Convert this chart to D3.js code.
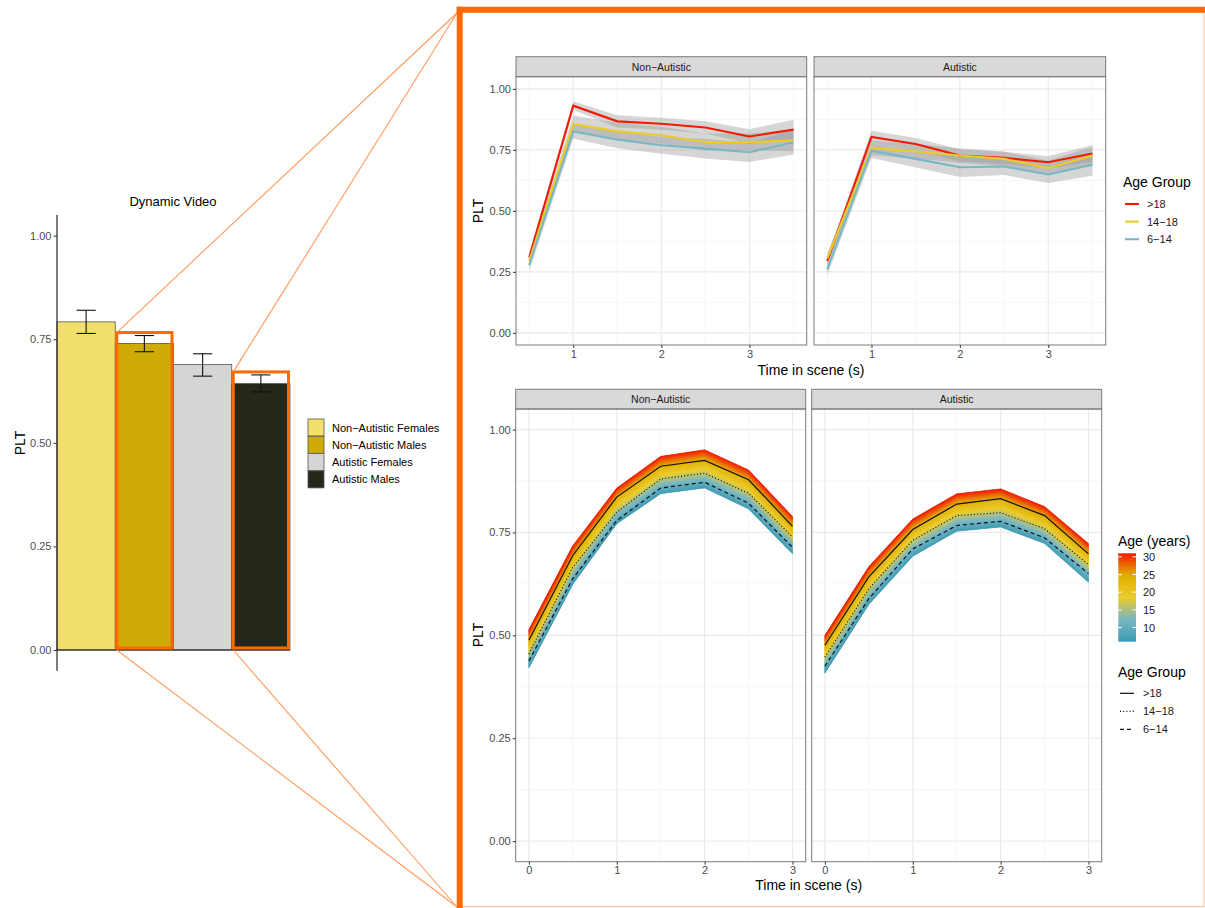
<!DOCTYPE html>
<head>
  <meta charset="utf-8">
  <script src="https://d3js.org/d3.v7.min.js"></script>
  <style>
    body { margin:0; background:#fff; }
    text { font-family: "Liberation Sans", Arial, sans-serif; }
  </style>
</head>
<body>
<script>
  // ---- left bar chart data
  const barGroups = ["Non\u2212Autistic Females", "Non\u2212Autistic Males", "Autistic Females", "Autistic Males"];
  const barMeans  = [0.792, 0.740, 0.689, 0.643];
  const barLower  = [0.764, 0.720, 0.661, 0.623];
  const barUpper  = [0.820, 0.759, 0.715, 0.664];
  const barColors = ["#F3DF6C", "#CEAB07", "#D5D5D3", "#24281A"];
  const highlighted = [1, 3];

  // ---- top facets: PLT over time by age group, with CI ribbons
  const facets = ["Non\u2212Autistic", "Autistic"];
  const ageGroups = [">18", "14\u221218", "6\u221214"];
  const groupColors = ["#F21A00", "#EBCC2A", "#78B7C5"];
  const topTimes = [0.5, 1, 1.5, 2, 2.5, 3, 3.5];
  const topNonAutistic = [
    [0.309, 0.931, 0.867, 0.857, 0.842, 0.805, 0.833],
    [0.295, 0.856, 0.826, 0.810, 0.782, 0.782, 0.789],
    [0.278, 0.826, 0.792, 0.769, 0.755, 0.740, 0.781]
  ];
  const topNonAutisticCI = [
    [0.020, 0.018, 0.025, 0.025, 0.025, 0.030, 0.040],
    [0.020, 0.035, 0.035, 0.035, 0.035, 0.035, 0.045],
    [0.025, 0.030, 0.035, 0.035, 0.040, 0.040, 0.050]
  ];
  const topAutistic = [
    [0.295, 0.803, 0.774, 0.727, 0.717, 0.699, 0.735],
    [0.305, 0.758, 0.744, 0.727, 0.713, 0.676, 0.727],
    [0.261, 0.747, 0.713, 0.679, 0.682, 0.649, 0.689]
  ];
  const topAutisticCI = [
    [0.020, 0.025, 0.025, 0.025, 0.025, 0.025, 0.035],
    [0.020, 0.030, 0.030, 0.030, 0.030, 0.030, 0.035],
    [0.025, 0.030, 0.035, 0.040, 0.035, 0.035, 0.045]
  ];

  // ---- bottom facets: predicted PLT by age (band from youngest to oldest)
  const bottomTimes = [0, 0.5, 1, 1.5, 2, 2.5, 3];
  const ageRange = [6, 31];
  const botNonAutBand  = { lo: [0.421, 0.624, 0.771, 0.844, 0.858, 0.807, 0.698],
                           hi: [0.514, 0.718, 0.858, 0.935, 0.951, 0.902, 0.789] };
  const botNonAutLines = [
    [0.488, 0.694, 0.836, 0.911, 0.925, 0.878, 0.765],
    [0.455, 0.666, 0.799, 0.880, 0.894, 0.845, 0.739],
    [0.438, 0.638, 0.779, 0.858, 0.872, 0.821, 0.714]
  ];
  const botAutBand  = { lo: [0.408, 0.575, 0.692, 0.753, 0.763, 0.723, 0.629],
                        hi: [0.500, 0.667, 0.783, 0.844, 0.856, 0.813, 0.723] };
  const botAutLines = [
    [0.476, 0.642, 0.757, 0.819, 0.832, 0.791, 0.698],
    [0.447, 0.613, 0.731, 0.791, 0.798, 0.759, 0.672],
    [0.425, 0.589, 0.710, 0.767, 0.777, 0.737, 0.650]
  ];
  const lineDash = [null, "1,2.2", "4,3"];
  const zissou = ["#3B9AB2", "#78B7C5", "#EBCC2A", "#E1AF00", "#F21A00"];
  const ageTicks = [10, 15, 20, 25, 30];

  const orange = "#FF6A00";

  const svg = d3.select("body").append("svg")
    .attr("width", 1205).attr("height", 908);
  svg.append("rect").attr("width", 1205).attr("height", 908).attr("fill", "#fff");

  function styleAxis(g) {
    g.select(".domain").remove();
    g.selectAll(".tick line").attr("stroke", "#333");
    g.selectAll(".tick text").attr("fill", "#4D4D4D").style("font-size", "11px");
  }

  // ================= LEFT BAR CHART
  const by = d3.scaleLinear().domain([0, 1]).range([650, 235.7]);
  const bx = d3.scaleBand().domain(barGroups).range([57, 290]).padding(0);

  const left = svg.append("g");
  left.selectAll("rect.bar").data(barGroups).enter().append("rect")
    .attr("class", "bar")
    .attr("x", d => bx(d))
    .attr("width", bx.bandwidth())
    .attr("y", (d, i) => by(barMeans[i]))
    .attr("height", (d, i) => by(0) - by(barMeans[i]))
    .attr("fill", (d, i) => barColors[i])
    .attr("stroke", "#555").attr("stroke-width", 0.8);

  // error bars
  const ew = bx.bandwidth() * 0.33;
  barGroups.forEach((d, i) => {
    const cx = bx(d) + bx.bandwidth() / 2;
    const eb = left.append("g").attr("stroke", "#111").attr("stroke-width", 1.1).attr("fill", "none");
    eb.append("line").attr("x1", cx).attr("x2", cx).attr("y1", by(barLower[i])).attr("y2", by(barUpper[i]));
    eb.append("line").attr("x1", cx - ew / 2).attr("x2", cx + ew / 2).attr("y1", by(barLower[i])).attr("y2", by(barLower[i]));
    eb.append("line").attr("x1", cx - ew / 2).attr("x2", cx + ew / 2).attr("y1", by(barUpper[i])).attr("y2", by(barUpper[i]));
  });

  // zero line + y axis
  left.append("line").attr("x1", 57).attr("x2", 290).attr("y1", by(0)).attr("y2", by(0))
    .attr("stroke", "#111").attr("stroke-width", 1.1);
  left.append("line").attr("x1", 57).attr("x2", 57).attr("y1", by(1.05)).attr("y2", by(-0.05))
    .attr("stroke", "#111").attr("stroke-width", 1.1);
  left.append("g").attr("transform", "translate(57,0)")
    .call(d3.axisLeft(by).tickValues([0, 0.25, 0.5, 0.75, 1]).tickFormat(d3.format(".2f")).tickSize(3.5).tickPadding(2))
    .call(styleAxis);

  left.append("text").attr("x", 173).attr("y", 206).attr("text-anchor", "middle")
    .style("font-size", "13px").text("Dynamic Video");
  left.append("text").attr("transform", "translate(25,443) rotate(-90)").attr("text-anchor", "middle")
    .style("font-size", "14px").text("PLT");

  // legend
  const lg = left.append("g").attr("transform", "translate(308,419)");
  barGroups.forEach((d, i) => {
    lg.append("rect").attr("x", 0).attr("y", i * 17.3).attr("width", 16).attr("height", 17)
      .attr("fill", barColors[i]).attr("stroke", "#555").attr("stroke-width", 0.8);
    lg.append("text").attr("x", 24).attr("y", i * 17.3 + 12.5).style("font-size", "11px").text(d);
  });

  // highlight boxes + zoom lines
  highlighted.forEach(i => {
    const x0 = bx(barGroups[i]) + 1.5, w = bx.bandwidth() - 3;
    const yTop = by(barUpper[i]) - 3;
    left.append("rect").attr("x", x0).attr("y", yTop).attr("width", w).attr("height", by(0) - 2 - yTop)
      .attr("fill", "none").attr("stroke", orange).attr("stroke-width", 3);
    left.append("line").attr("x1", x0).attr("y1", yTop).attr("x2", 457).attr("y2", 13)
      .attr("stroke", "#FF9A5C").attr("stroke-width", 1.1);
    left.append("line").attr("x1", x0).attr("y1", by(0)).attr("x2", 457).attr("y2", 907)
      .attr("stroke", "#FF9A5C").attr("stroke-width", 1.1);
  });

  // frame
  svg.append("line").attr("x1", 1204).attr("x2", 1204).attr("y1", 12).attr("y2", 907)
    .attr("stroke", "#FFC9A6").attr("stroke-width", 1.2);
  svg.append("line").attr("x1", 460).attr("x2", 1204).attr("y1", 906.6).attr("y2", 906.6)
    .attr("stroke", "#FFC9A6").attr("stroke-width", 1.2);
  svg.append("line").attr("x1", 459.7).attr("x2", 459.7).attr("y1", 6.7).attr("y2", 908)
    .attr("stroke", orange).attr("stroke-width", 6);
  svg.append("line").attr("x1", 456.7).attr("x2", 1205).attr("y1", 9.7).attr("y2", 9.7)
    .attr("stroke", orange).attr("stroke-width", 6);

  // ================= FACET HELPERS
  function panelFrame(g, x, y, xMajor, xMinor, stripTop, label) {
    const [x0, x1] = x.range(), [y1, y0] = y.range();
    const yMajor = [0, 0.25, 0.5, 0.75, 1], yMinor = [0.125, 0.375, 0.625, 0.875];
    g.append("rect").attr("x", x0).attr("y", y0).attr("width", x1 - x0).attr("height", y1 - y0).attr("fill", "#fff");
    g.selectAll(null).data(yMinor).enter().append("line")
      .attr("x1", x0).attr("x2", x1).attr("y1", d => y(d)).attr("y2", d => y(d))
      .attr("stroke", "#F2F2F2").attr("stroke-width", 0.7);
    g.selectAll(null).data(xMinor).enter().append("line")
      .attr("y1", y0).attr("y2", y1).attr("x1", d => x(d)).attr("x2", d => x(d))
      .attr("stroke", "#F2F2F2").attr("stroke-width", 0.7);
    g.selectAll(null).data(yMajor).enter().append("line")
      .attr("x1", x0).attr("x2", x1).attr("y1", d => y(d)).attr("y2", d => y(d))
      .attr("stroke", "#EBEBEB").attr("stroke-width", 1.2);
    g.selectAll(null).data(xMajor).enter().append("line")
      .attr("y1", y0).attr("y2", y1).attr("x1", d => x(d)).attr("x2", d => x(d))
      .attr("stroke", "#EBEBEB").attr("stroke-width", 1.2);
    g.append("rect").attr("x", x0).attr("y", stripTop).attr("width", x1 - x0).attr("height", y0 - stripTop)
      .attr("fill", "#D9D9D9").attr("stroke", "#7A7A7A").attr("stroke-width", 1);
    g.append("text").attr("x", (x0 + x1) / 2).attr("y", (stripTop + y0) / 2 + 4)
      .attr("text-anchor", "middle").attr("fill", "#1A1A1A").style("font-size", "10.5px").text(label);
  }
  function panelBorder(g, x, y) {
    const [x0, x1] = x.range(), [y1, y0] = y.range();
    g.append("rect").attr("x", x0).attr("y", y0).attr("width", x1 - x0).attr("height", y1 - y0)
      .attr("fill", "none").attr("stroke", "#7A7A7A").attr("stroke-width", 1);
  }

  // ================= TOP FACETS
  const topY = d3.scaleLinear().domain([-0.05, 1.05]).range([345, 76.7]);
  const topPanels = [
    { x: d3.scaleLinear().domain([0.35, 3.65]).range([516, 806.7]), lines: topNonAutistic, ci: topNonAutisticCI },
    { x: d3.scaleLinear().domain([0.35, 3.65]).range([814, 1105.7]), lines: topAutistic, ci: topAutisticCI }
  ];
  topPanels.forEach((p, k) => {
    const g = svg.append("g");
    panelFrame(g, p.x, topY, [1, 2, 3], [0.5, 1.5, 2.5, 3.5], 56.7, facets[k]);
    const area = d3.area().x(d => p.x(d.t)).y0(d => topY(d.v - d.c)).y1(d => topY(d.v + d.c));
    const line = d3.line().x(d => p.x(d.t)).y(d => topY(d.v));
    p.lines.forEach((vals, j) => {
      const pts = topTimes.map((t, i) => ({ t, v: vals[i], c: p.ci[j][i] }));
      g.append("path").attr("d", area(pts)).attr("fill", "#999").attr("fill-opacity", 0.4);
    });
    p.lines.forEach((vals, j) => {
      const pts = topTimes.map((t, i) => ({ t, v: vals[i] }));
      g.append("path").attr("d", line(pts)).attr("fill", "none")
        .attr("stroke", groupColors[j]).attr("stroke-width", 2.1);
    });
    panelBorder(g, p.x, topY);
    g.append("g").attr("transform", "translate(0,345)")
      .call(d3.axisBottom(p.x).tickValues([1, 2, 3]).tickFormat(d3.format("d")).tickSize(3).tickPadding(2))
      .call(styleAxis);
    if (k === 0) {
      g.append("g").attr("transform", "translate(516,0)")
        .call(d3.axisLeft(topY).tickValues([0, 0.25, 0.5, 0.75, 1]).tickFormat(d3.format(".2f")).tickSize(3).tickPadding(2))
        .call(styleAxis);
    }
  });
  svg.append("text").attr("x", 811).attr("y", 375).attr("text-anchor", "middle")
    .style("font-size", "14px").text("Time in scene (s)");
  svg.append("text").attr("transform", "translate(483,211) rotate(-90)").attr("text-anchor", "middle")
    .style("font-size", "14px").text("PLT");

  // top legend
  const tl = svg.append("g");
  tl.append("text").attr("x", 1123).attr("y", 187).style("font-size", "14px").text("Age Group");
  ageGroups.forEach((a, j) => {
    const yy = 204 + j * 17.6;
    tl.append("line").attr("x1", 1125).attr("x2", 1139).attr("y1", yy).attr("y2", yy)
      .attr("stroke", groupColors[j]).attr("stroke-width", 2.1);
    tl.append("text").attr("x", 1147).attr("y", yy + 4).style("font-size", "11px").attr("fill", "#1A1A1A").text(a);
  });

  // ================= BOTTOM FACETS
  const ageColor = d3.scaleLinear()
    .domain(d3.range(zissou.length).map(i => ageRange[0] + i * (ageRange[1] - ageRange[0]) / (zissou.length - 1)))
    .range(zissou).interpolate(d3.interpolateRgb);
  const botY = d3.scaleLinear().domain([-0.05, 1.05]).range([861.7, 409]);
  const botPanels = [
    { x: d3.scaleLinear().domain([-0.15, 3.15]).range([515.7, 805.7]), band: botNonAutBand, lines: botNonAutLines },
    { x: d3.scaleLinear().domain([-0.15, 3.15]).range([811.7, 1101.7]), band: botAutBand, lines: botAutLines }
  ];
  const step = 0.25;
  const ages = d3.range(ageRange[0], ageRange[1], step);
  botPanels.forEach((p, k) => {
    const g = svg.append("g");
    panelFrame(g, p.x, botY, [0, 1, 2, 3], [0.5, 1.5, 2.5], 389.3, facets[k]);
    const frac = a => (a - ageRange[0]) / (ageRange[1] - ageRange[0]);
    const at = (i, a) => p.band.lo[i] + (p.band.hi[i] - p.band.lo[i]) * frac(a);
    ages.forEach(a => {
      const ar = d3.area().x(i => p.x(bottomTimes[i])).y0(i => botY(at(i, a))).y1(i => botY(at(i, Math.min(a + step, ageRange[1]))));
      const c = ageColor(a + step / 2);
      g.append("path").attr("d", ar(d3.range(bottomTimes.length)))
        .attr("fill", c).attr("stroke", c).attr("stroke-width", 0.4);
    });
    const line = d3.line().x((d, i) => p.x(bottomTimes[i])).y(d => botY(d));
    p.lines.forEach((vals, j) => {
      g.append("path").attr("d", line(vals)).attr("fill", "none")
        .attr("stroke", "#111").attr("stroke-width", 1.2)
        .attr("stroke-dasharray", lineDash[j]);
    });
    panelBorder(g, p.x, botY);
    g.append("g").attr("transform", "translate(0,861.7)")
      .call(d3.axisBottom(p.x).tickValues([0, 1, 2, 3]).tickFormat(d3.format("d")).tickSize(3).tickPadding(2))
      .call(styleAxis);
    if (k === 0) {
      g.append("g").attr("transform", "translate(515.7,0)")
        .call(d3.axisLeft(botY).tickValues([0, 0.25, 0.5, 0.75, 1]).tickFormat(d3.format(".2f")).tickSize(3).tickPadding(2))
        .call(styleAxis);
    }
  });
  svg.append("text").attr("x", 808.7).attr("y", 890).attr("text-anchor", "middle")
    .style("font-size", "14px").text("Time in scene (s)");
  svg.append("text").attr("transform", "translate(483,635) rotate(-90)").attr("text-anchor", "middle")
    .style("font-size", "14px").text("PLT");

  // colourbar legend
  const cb = svg.append("g");
  const cbY = d3.scaleLinear().domain(ageRange).range([641.7, 553.3]);
  const grad = svg.append("defs").append("linearGradient").attr("id", "agegrad")
    .attr("x1", 0).attr("y1", 1).attr("x2", 0).attr("y2", 0);
  zissou.forEach((c, i) => grad.append("stop").attr("offset", i / (zissou.length - 1)).attr("stop-color", c));
  cb.append("text").attr("x", 1118).attr("y", 546).style("font-size", "14px").text("Age (years)");
  cb.append("rect").attr("x", 1118.3).attr("y", cbY(ageRange[1])).attr("width", 17.7)
    .attr("height", cbY(ageRange[0]) - cbY(ageRange[1])).attr("fill", "url(#agegrad)");
  ageTicks.forEach(t => {
    cb.append("line").attr("x1", 1118.3).attr("x2", 1121.8).attr("y1", cbY(t)).attr("y2", cbY(t)).attr("stroke", "#fff");
    cb.append("line").attr("x1", 1132.5).attr("x2", 1136).attr("y1", cbY(t)).attr("y2", cbY(t)).attr("stroke", "#fff");
    cb.append("text").attr("x", 1143).attr("y", cbY(t) + 4).style("font-size", "11px").attr("fill", "#1A1A1A").text(t);
  });

  // line-type legend
  cb.append("text").attr("x", 1118).attr("y", 677).style("font-size", "14px").text("Age Group");
  ageGroups.forEach((a, j) => {
    const yy = 693.3 + j * 18;
    cb.append("line").attr("x1", 1120).attr("x2", 1134).attr("y1", yy).attr("y2", yy)
      .attr("stroke", "#111").attr("stroke-width", 1.2).attr("stroke-dasharray", lineDash[j]);
    cb.append("text").attr("x", 1143).attr("y", yy + 4).style("font-size", "11px").attr("fill", "#1A1A1A").text(a);
  });
</script>
</body>
